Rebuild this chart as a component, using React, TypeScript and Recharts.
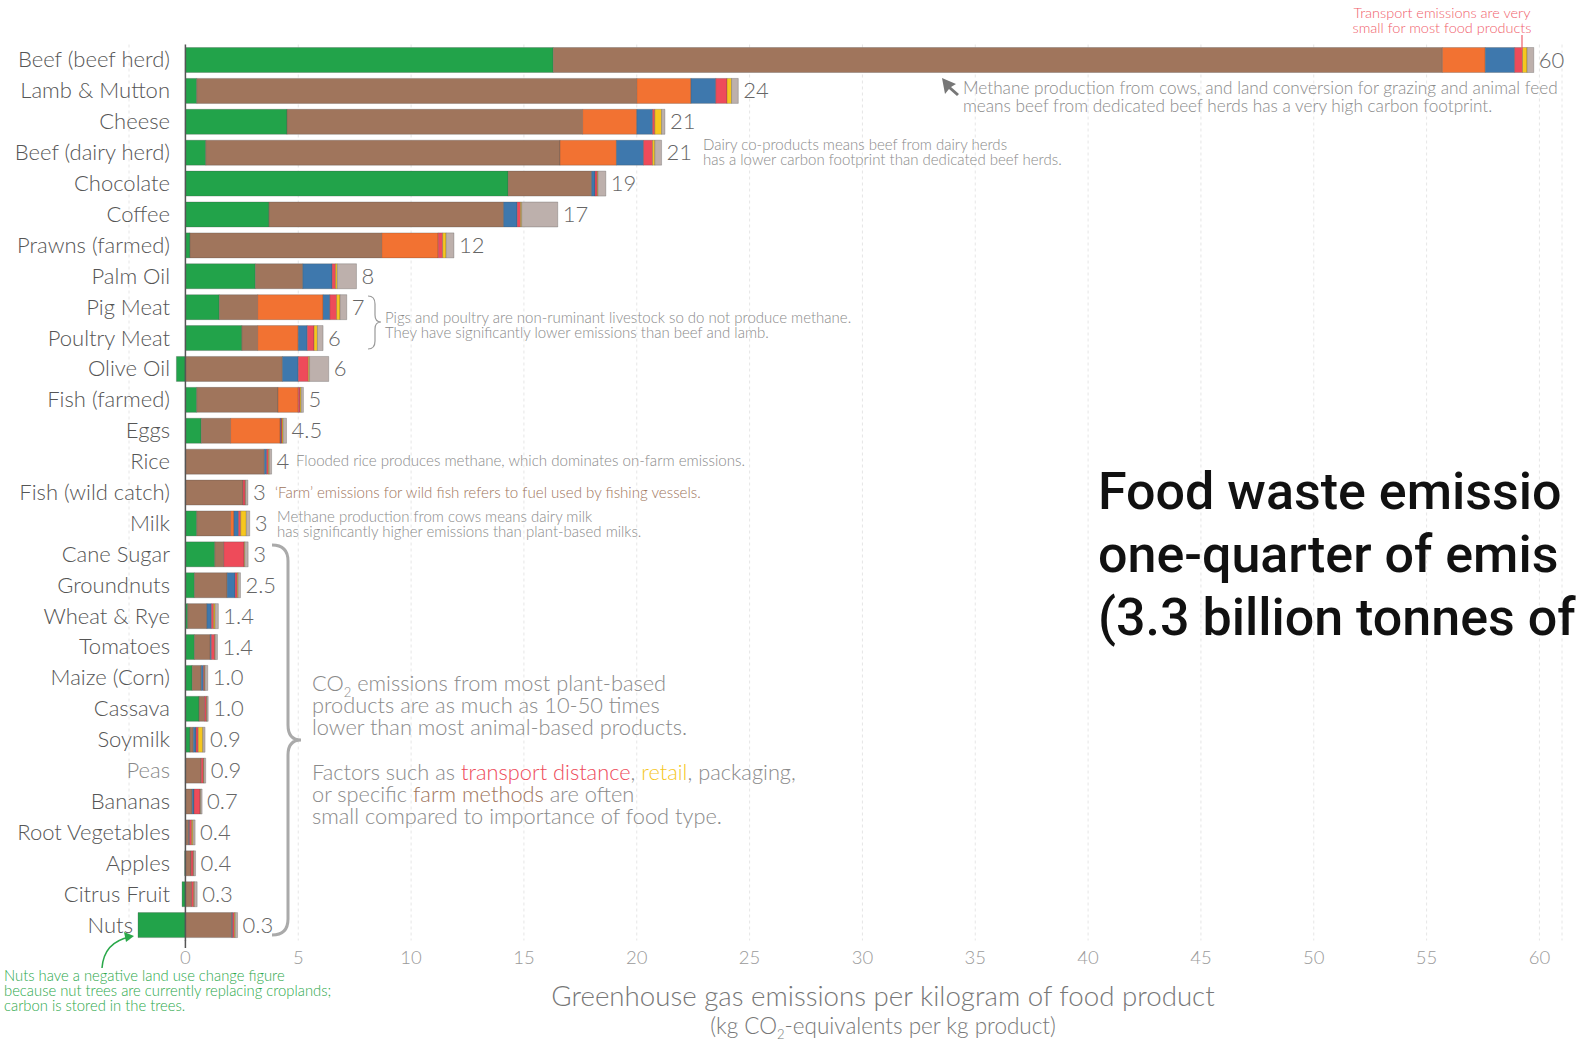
import * as React from 'react';
import { BarChart, Bar, XAxis, YAxis, CartesianGrid, ReferenceLine, LabelList } from 'recharts';

const categories = [
  'Beef (beef herd)', 'Lamb & Mutton', 'Cheese', 'Beef (dairy herd)', 'Chocolate', 'Coffee',
  'Prawns (farmed)', 'Palm Oil', 'Pig Meat', 'Poultry Meat', 'Olive Oil', 'Fish (farmed)', 'Eggs',
  'Rice', 'Fish (wild catch)', 'Milk', 'Cane Sugar', 'Groundnuts', 'Wheat & Rye', 'Tomatoes',
  'Maize (Corn)', 'Cassava', 'Soymilk', 'Peas', 'Bananas', 'Root Vegetables', 'Apples',
  'Citrus Fruit', 'Nuts',
];

const landUse = [16.3, 0.5, 4.5, 0.9, 14.3, 3.7, 0.2, 3.1, 1.5, 2.5, -0.4, 0.5, 0.7, 0, 0, 0.5, 1.3, 0.4, 0.1, 0.4, 0.3, 0.6, 0.2, 0, 0, 0, -0.03, -0.15, -2.1];
const farm = [39.4, 19.5, 13.1, 15.7, 3.7, 10.4, 8.5, 2.1, 1.7, 0.7, 4.3, 3.6, 1.3, 3.5, 2.55, 1.5, 0.4, 1.45, 0.85, 0.7, 0.4, 0.25, 0.15, 0.7, 0.3, 0.15, 0.25, 0.27, 2.05];
const animalFeed = [1.9, 2.4, 2.4, 2.5, 0, 0, 2.5, 0, 2.9, 1.8, 0, 0.9, 2.2, 0, 0, 0.15, 0, 0, 0, 0, 0, 0, 0, 0, 0, 0, 0, 0, 0];
const processing = [1.3, 1.1, 0.7, 1.2, 0.15, 0.6, 0, 1.3, 0.3, 0.4, 0.7, 0, 0.03, 0.1, 0, 0.2, 0, 0.35, 0.2, 0.05, 0.1, 0, 0.12, 0, 0.08, 0.03, 0, 0, 0.04];
const transport = [0.35, 0.5, 0.1, 0.4, 0.1, 0.15, 0.2, 0.15, 0.3, 0.3, 0.45, 0.08, 0.05, 0.08, 0.1, 0.1, 0.9, 0.1, 0.1, 0.15, 0.05, 0.08, 0.1, 0.1, 0.27, 0.1, 0.1, 0.1, 0.08];
const retail = [0.2, 0.2, 0.3, 0.1, 0.03, 0.05, 0.15, 0.08, 0.15, 0.15, 0.05, 0.05, 0.05, 0.04, 0.02, 0.25, 0.03, 0.04, 0.06, 0.02, 0.02, 0.02, 0.2, 0.02, 0.02, 0.05, 0.02, 0.03, 0.04];
const packaging = [0.3, 0.3, 0.15, 0.3, 0.35, 1.6, 0.35, 0.85, 0.3, 0.25, 0.85, 0.1, 0.15, 0.1, 0.1, 0.15, 0.15, 0.1, 0.15, 0.1, 0.12, 0.06, 0.1, 0.08, 0.07, 0.1, 0.08, 0.12, 0.1];
const totalLabels = ['60', '24', '21', '21', '19', '17', '12', '8', '7', '6', '6', '5', '4.5', '4', '3', '3', '3', '2.5', '1.4', '1.4', '1.0', '1.0', '0.9', '0.9', '0.7', '0.4', '0.4', '0.3', '0.3'];
const xTicks = [0, 5, 10, 15, 20, 25, 30, 35, 40, 45, 50, 55, 60];

const series = [
  { key: 'landUse', color: '#22a34a' },
  { key: 'farm', color: '#a0755c' },
  { key: 'animalFeed', color: '#f27232' },
  { key: 'processing', color: '#3e78ad' },
  { key: 'transport', color: '#ee4b5a' },
  { key: 'retail', color: '#f6c71f' },
  { key: 'packaging', color: '#bdb0ac' },
];

const rows = categories.map((name, i) => ({
  name,
  landUse: landUse[i],
  farm: farm[i],
  animalFeed: animalFeed[i],
  processing: processing[i],
  transport: transport[i],
  retail: retail[i],
  packaging: packaging[i],
  label: totalLabels[i],
}));

const FONT = 'Lato, "Open Sans", sans-serif';

function CategoryTick(props: any) {
  const { x, y, payload } = props;
  const isNuts = payload.value === 'Nuts';
  const tx = isNuts ? x + 12 : x + 49;
  return (
    <text x={tx} y={y} dy={7.5} textAnchor="end" fontFamily={FONT} fontWeight={300} fontSize={22}
      fill={payload.value === 'Peas' ? '#888' : '#555'}>
      {payload.value}
    </text>
  );
}

function TotalLabel(props: any) {
  const { x, y, width, height, value } = props;
  return (
    <text x={x + width + 5} y={y + height / 2} dy={7.5} fontFamily={FONT} fontWeight={300} fontSize={22} fill="#666">
      {value}
    </text>
  );
}

function Annotations() {
  const grey = '#8a8a8a';
  return (
    <svg width={1588} height={1053} style={{ position: 'absolute', left: 0, top: 0, pointerEvents: 'none' }}
      fontFamily={FONT} fontWeight={300}>
      {/* transport note */}
      <text x={1442} y={18} textAnchor="middle" fontSize={14.5} fill="#f0606b">Transport emissions are very</text>
      <text x={1442} y={33} textAnchor="middle" fontSize={14.5} fill="#f0606b">small for most food products</text>
      <line x1={1522} y1={35} x2={1522} y2={50} stroke="#f0606b" strokeWidth={1.2} />

      {/* beef arrow */}
      <path d="M942,78 L945,94 L949,89 L957,96 L959,94 L951,87 L956,84 Z" fill="#777" />
      <text x={963} y={94} fontSize={17.2} fill={grey}>Methane production from cows, and land conversion for grazing and animal feed</text>
      <text x={963} y={112} fontSize={17.2} fill={grey}>means beef from dedicated beef herds has a very high carbon footprint.</text>

      <text x={703} y={150} fontSize={15} fill={grey}>Dairy co-products means beef from dairy herds</text>
      <text x={703} y={165} fontSize={15} fill={grey}>has a lower carbon footprint than dedicated beef herds.</text>

      <path d="M368,296 Q375,296 375,304 L375,315 Q375,322 381,322 Q375,322 375,329 L375,341 Q375,349 368,349"
        fill="none" stroke="#999" strokeWidth={1.2} />
      <text x={385} y={323} fontSize={15} fill={grey}>Pigs and poultry are non-ruminant livestock so do not produce methane.</text>
      <text x={385} y={338} fontSize={15} fill={grey}>They have significantly lower emissions than beef and lamb.</text>

      <text x={296} y={466} fontSize={15.1} fill={grey}>Flooded rice produces methane, which dominates on-farm emissions.</text>
      <text x={275} y={498} fontSize={15.1} fill="#a0755c">‘Farm’ emissions for wild fish refers to fuel used by fishing vessels.</text>
      <text x={277} y={522} fontSize={15} fill={grey}>Methane production from cows means dairy milk</text>
      <text x={277} y={537} fontSize={15} fill={grey}>has significantly higher emissions than plant-based milks.</text>

      <path d="M272,545 Q288,545 288,561 L288,725 Q288,740 301,740 Q288,740 288,755 L288,919 Q288,935 272,935"
        fill="none" stroke="#aaa" strokeWidth={3} />

      <text x={312} y={691} fontSize={21.8} fill={grey}>
        CO<tspan fontSize={13} dy={6}>2</tspan><tspan dy={-6}> emissions from most plant-based</tspan>
      </text>
      <text x={312} y={713} fontSize={21.8} fill={grey}>products are as much as 10-50 times</text>
      <text x={312} y={735} fontSize={21.8} fill={grey}>lower than most animal-based products.</text>

      <text x={312} y={780} fontSize={21.8} fill={grey}>
        Factors such as <tspan fill="#ee4b5a">transport distance</tspan>, <tspan fill="#f6c71f">retail</tspan>, packaging,
      </text>
      <text x={312} y={802} fontSize={21.8} fill={grey}>
        or specific <tspan fill="#a0755c">farm methods</tspan> are often
      </text>
      <text x={312} y={824} fontSize={21.8} fill={grey}>small compared to importance of food type.</text>

      {/* nuts note */}
      <path d="M102,968 Q104,942 130,937" fill="none" stroke="#2aa84a" strokeWidth={1.5} />
      <path d="M134,936 L124,932 L126,942 Z" fill="#2aa84a" />
      <text x={4} y={981} fontSize={14.8} fill="#2aa84a">Nuts have a negative land use change figure</text>
      <text x={4} y={996} fontSize={14.8} fill="#2aa84a">because nut trees are currently replacing croplands;</text>
      <text x={4} y={1011} fontSize={14.8} fill="#2aa84a">carbon is stored in the trees.</text>

      {/* zero line tail below the last bar */}
      <line x1={185.4} y1={940} x2={185.4} y2={948} stroke="#555" strokeWidth={1.5} />

      {/* axis title */}
      <text x={883} y={1006} textAnchor="middle" fontSize={27.7} fill="#777">Greenhouse gas emissions per kilogram of food product</text>
      <text x={883} y={1034} textAnchor="middle" fontSize={22.5} fill="#777">
        (kg CO<tspan fontSize={13} dy={5}>2</tspan><tspan dy={-5}>-equivalents per kg product)</tspan>
      </text>
    </svg>
  );
}

export default function App(): React.JSX.Element {
  return (
    <div style={{ position: 'absolute', left: 0, top: 0, width: 1588, height: 1053, overflow: 'hidden', background: '#fff' }}>
      <BarChart
        width={1588}
        height={1053}
        data={rows}
        layout="vertical"
        stackOffset="sign"
        barSize={25}
        margin={{ top: 44.5, right: 26, bottom: 82.5, left: 0 }}
      >
        <CartesianGrid horizontal={false} strokeDasharray="3 3" stroke="#e6e6e6" />
        <XAxis
          type="number"
          domain={[-2.5, 61]}
          allowDataOverflow
          ticks={xTicks}
          axisLine={false}
          tickLine={false}
          height={30}
          tick={{ fontFamily: FONT, fontWeight: 300, fontSize: 18.5, fill: '#9a9a9a' }}
          tickMargin={4}
        />
        <YAxis
          type="category"
          dataKey="name"
          width={129}
          axisLine={false}
          tickLine={false}
          interval={0}
          tick={<CategoryTick />}
        />
        {series.map((s, idx) => (
          <Bar
            key={s.key}
            dataKey={s.key}
            stackId="a"
            fill={s.color}
            stroke="rgba(70,70,70,0.35)"
            strokeWidth={0.8}
            isAnimationActive={false}
          >
            {idx === series.length - 1 && <LabelList dataKey="label" content={<TotalLabel />} />}
          </Bar>
        ))}
        <ReferenceLine x={0} stroke="#555" strokeWidth={1.5} />
      </BarChart>
      <Annotations />
      <div style={{ position: 'absolute', left: 1098, top: 460, width: 490, overflow: 'hidden', whiteSpace: 'nowrap',
        fontFamily: 'Roboto, sans-serif', fontWeight: 500, fontSize: 52, lineHeight: '63px', color: '#111' }}>
        <div>Food waste emissio</div>
        <div>one-quarter of emis</div>
        <div>(3.3 billion tonnes of</div>
      </div>
    </div>
  );
}
